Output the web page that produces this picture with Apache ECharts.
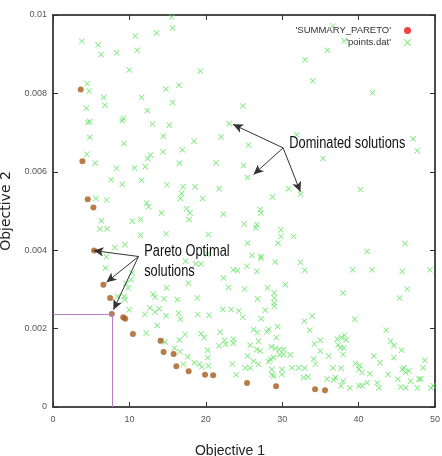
<!DOCTYPE html>
<html><head><meta charset="utf-8">
<script src="https://cdn.jsdelivr.net/npm/echarts@6/dist/echarts.min.js"></script>
<style>html,body{margin:0;padding:0;background:#fff}#c{width:442px;height:456px}</style>
</head><body><div id="c"></div>
<script>
// ---- data ----
const xTickValues = [0, 10, 20, 30, 40, 50];
const yTickValues = [0, 0.002, 0.004, 0.006, 0.008, 0.01];
const seriesNames = ["'SUMMARY_PARETO'", "'points.dat'"];
const axisNames = ['Objective 1', 'Objective 2'];

const paretoPoints = [
  [3.63,0.00810],[3.85,0.00627],[4.55,0.00530],[5.29,0.00509],[5.38,0.00399],[6.60,0.00312],
  [7.48,0.00278],[7.70,0.00237],[9.19,0.00229],[9.45,0.00225],[10.46,0.00186],[14.08,0.00169],
  [14.48,0.00140],[15.79,0.00135],[16.14,0.00104],[17.76,0.00091],[19.90,0.00082],[20.96,0.00081],
  [25.4,0.00061],[29.2,0.00053],[34.3,0.00045],[35.6,0.00043]
];

const dominatedPoints = [
  [15.53,0.00995],[15.66,0.00967],[3.77,0.00933],[5.91,0.00924],[10.76,0.00947],[13.56,0.00954],[6.30,0.00899],[8.31,0.00904],[11.02,0.00910],[9.97,0.00860],[19.29,0.00857],[4.46,0.00825],[4.72,0.00806],[6.65,0.00790],[6.78,0.00770],[4.37,0.00762],[11.59,0.00790],[14.79,0.00811],[16.50,0.00821],[15.66,0.00777],[24.84,0.00768],[38.10,0.00934],[35.92,0.00910],[32.98,0.00886],[33.99,0.00832],[41.82,0.00802],[36.61,0.00972],
  [12.34,0.00756],[4.55,0.00726],[4.82,0.00728],[9.19,0.00736],[9.06,0.00730],[13.03,0.00722],[15.22,0.00719],[23.06,0.00723],[4.82,0.00688],[9.28,0.00672],[14.44,0.00691],[18.46,0.00678],[22.01,0.00689],[4.42,0.00645],[5.51,0.00622],[8.31,0.00609],[10.67,0.00610],[12.07,0.00613],[12.38,0.00634],[12.77,0.00643],[14.40,0.00651],[16.93,0.00656],[16.54,0.00622],[21.35,0.00623],[24.93,0.00616],[7.61,0.00580],[9.06,0.00568],[11.59,0.00578],[14.92,0.00567],[17.02,0.00562],[18.60,0.00562],[21.75,0.00557],[5.60,0.00532],[7.00,0.00528],[16.84,0.00545],[16.67,0.00532],[19.59,0.00532],[12.24,0.00520],[12.51,0.00511],[17.49,0.00506],[31.89,0.00694],[25.59,0.00668],[35.34,0.00634],[47.15,0.00684],[47.68,0.00654],[25.46,0.00586],[30.84,0.00557],[28.74,0.00536],[32.41,0.00543],[40.25,0.00555],[27.13,0.00504],
  [14.21,0.00495],[17.94,0.00495],[22.31,0.00492],[6.34,0.00475],[6.13,0.00454],[7.09,0.00455],[10.37,0.00474],[11.46,0.00478],[17.81,0.00478],[11.46,0.00438],[14.79,0.00442],[20.34,0.00440],[25.03,0.00467],[8.10,0.00407],[9.41,0.00414],[7.00,0.00383],[6.86,0.00355],[17.36,0.00372],[18.67,0.00365],[19.38,0.00365],[20.25,0.00389],[23.62,0.00350],[24.15,0.00348],[22.31,0.00329],[17.72,0.00316],[10.37,0.00342],[10.20,0.00325],[9.54,0.00316],[9.84,0.00304],[9.32,0.00282],[9.41,0.00274],[14.87,0.00304],[13.12,0.00288],[13.35,0.00280],[14.53,0.00276],[16.27,0.00274],[18.90,0.00278],[22.97,0.00305],[25.07,0.00301],[27.20,0.00495],[26.68,0.00465],[26.55,0.00457],[29.83,0.00452],[29.83,0.00435],[31.50,0.00435],[29.44,0.00418],[25.46,0.00418],[26.02,0.00387],[27.20,0.00384],[27.20,0.00380],[29.09,0.00370],[32.38,0.00369],[32.94,0.00349],[25.37,0.00359],[26.68,0.00346],[39.24,0.00350],[41.77,0.00350],[45.71,0.00346],[49.34,0.00350],[41.12,0.00397],[46.06,0.00417],[28.08,0.00304],[28.96,0.00291],[28.96,0.00278],[28.96,0.00265],[28.96,0.00257],[30.41,0.00312],[26.77,0.00276],[37.97,0.00291],[46.36,0.00301],[45.37,0.00278],[8.44,0.00282],
  [9.97,0.00248],[12.20,0.00189],[12.69,0.00253],[12.03,0.00236],[13.35,0.00242],[13.91,0.00251],[14.79,0.00233],[16.44,0.00239],[16.67,0.00224],[18.94,0.00236],[20.43,0.00234],[22.22,0.00249],[23.32,0.00249],[24.32,0.00245],[13.65,0.00208],[14.66,0.00166],[16.54,0.00171],[17.28,0.00185],[19.38,0.00187],[19.78,0.00177],[21.88,0.00191],[22.44,0.00170],[22.61,0.00160],[23.62,0.00173],[23.62,0.00163],[21.75,0.00156],[15.88,0.00150],[16.63,0.00141],[20.25,0.00145],[20.25,0.00126],[17.62,0.00128],[17.06,0.00109],[18.50,0.00113],[19.16,0.00109],[19.46,0.00102],[20.34,0.00105],[23.49,0.00109],[23.98,0.00082],[25.16,0.00100],[27.78,0.00247],[32.90,0.00219],[33.90,0.00232],[33.60,0.00196],[39.50,0.00224],[43.61,0.00196],[26.25,0.00198],[26.77,0.00190],[28.22,0.00198],[27.99,0.00192],[29.40,0.00205],[29.23,0.00177],[25.81,0.00158],[26.90,0.00168],[26.68,0.00147],[27.13,0.00143],[25.46,0.00130],[28.57,0.00154],[29.09,0.00149],[29.62,0.00147],[30.18,0.00147],[28.44,0.00122],[28.87,0.00126],[28.22,0.00116],[31.06,0.00133],[29.66,0.00133],[30.18,0.00134],[26.25,0.00117],[25.81,0.00100],[26.90,0.00109],[28.65,0.00096],[28.65,0.00083],[28.87,0.00079],[29.96,0.00096],[29.96,0.00083],[31.27,0.00100],[32.15,0.00100],[32.94,0.00099],[32.81,0.00075],[33.37,0.00077],[34.12,0.00123],[34.34,0.00109],[34.21,0.00161],[35.00,0.00170],[35.00,0.00143],[36.09,0.00130],[37.18,0.00173],[37.76,0.00177],[38.36,0.00171],[38.15,0.00183],[37.31,0.00158],[37.62,0.00151],[38.06,0.00151],[37.97,0.00134],[36.65,0.00100],[37.70,0.00099],[35.87,0.00071],[36.75,0.00069],[36.97,0.00075],[37.70,0.00054],[37.97,0.00066],[38.85,0.00049],[40.03,0.00054],[40.46,0.00054],[41.12,0.00062],[39.59,0.00111],[40.16,0.00106],[40.03,0.00096],[40.46,0.00088],[41.47,0.00085],[41.99,0.00130],[42.78,0.00113],[42.43,0.00062],[42.65,0.00049],[43.87,0.00083],[44.62,0.00126],[44.19,0.00168],[44.62,0.00157],[45.63,0.00145],[45.14,0.00071],[45.50,0.00051],[46.15,0.00049],[45.71,0.00096],[46.15,0.00088],[46.59,0.00092],[45.93,0.00100],[46.81,0.00066],[47.68,0.00049],[47.90,0.00071],[48.12,0.00072],[48.46,0.00100],[48.65,0.00119],[49.44,0.00049],[49.78,0.00054],[24.84,0.00229],[27.26,0.00225],[14.21,0.00169]
];

// annotation anchors (data units)
const highlightedPoint = [7.70, 0.00237];
const dominatedLabel = { text: 'Dominated solutions', at: [30.93, 0.00673] };
const dominatedArrowFrom = [30.12, 0.00661];
const dominatedArrowTo = [[23.56, 0.00721], [26.25, 0.00593], [32.38, 0.00549]];
const paretoLabel = { text: 'Pareto Optimal\nsolutions', at: [11.94, 0.00370] };
const paretoArrowFrom = [11.19, 0.00384];
const paretoArrowTo = [[5.31, 0.00399], [6.99, 0.00318], [7.91, 0.00248]];

// ---- chart ----
const sans = "'Liberation Sans', Arial, sans-serif";
const xMin = xTickValues[0], xMax = xTickValues[xTickValues.length - 1];
const yMin = yTickValues[0], yMax = yTickValues[yTickValues.length - 1];
const xStep = xTickValues[1] - xTickValues[0], yStep = yTickValues[1] - yTickValues[0];
const xMark = 'path://M0,1L1,0L5,4L9,0L10,1L6,5L10,9L9,10L5,6L1,10L0,9L4,5Z';

function frameAxis(extra) {
  return Object.assign({
    type: 'value',
    axisLine: { show: true, onZero: false, lineStyle: { color: '#111', width: 1.5 } },
    axisTick: { show: true, inside: true, length: 5, lineStyle: { color: '#333', width: 1 } },
    splitLine: { show: false },
    axisLabel: { show: false }
  }, extra);
}

const arrowLines = [];
dominatedArrowTo.forEach(p => arrowLines.push([{ coord: dominatedArrowFrom }, { coord: p }]));
paretoArrowTo.forEach(p => arrowLines.push([{ coord: paretoArrowFrom }, { coord: p }]));

const chart = echarts.init(document.getElementById('c'), null, { renderer: 'canvas' });
chart.setOption({
  animation: false,
  backgroundColor: '#fff',
  grid: { left: 53, right: 7, top: 15, bottom: 49, containLabel: false, outerBoundsMode: 'none' },
  legend: {
    right: 26, top: 20, orient: 'vertical', align: 'right',
    itemWidth: 7, itemHeight: 7, itemGap: 1, selectedMode: false,
    textStyle: { fontFamily: sans, fontSize: 9.5, color: '#333', padding: [0, 8, 0, 0], lineHeight: 11 },
    data: [
      { name: seriesNames[0], icon: 'circle', itemStyle: { color: '#ee1111' } },
      { name: seriesNames[1] }
    ]
  },
  xAxis: [
    frameAxis({
      min: xMin, max: xMax, interval: xStep, position: 'bottom',
      axisLabel: { show: true, color: '#555', fontSize: 9, fontFamily: sans, margin: 8 },
      name: axisNames[0], nameLocation: 'middle', nameGap: 37,
      nameTextStyle: { fontFamily: sans, fontSize: 14, color: '#222', padding: [0, 28, 0, 0] }
    }),
    frameAxis({ min: xMin, max: xMax, interval: xStep, position: 'top' })
  ],
  yAxis: [
    frameAxis({
      min: yMin, max: yMax, interval: yStep, position: 'left',
      axisLabel: { show: true, color: '#555', fontSize: 9, fontFamily: sans, margin: 6 },
      name: axisNames[1], nameLocation: 'middle', nameGap: 36, nameRotate: 90,
      nameTextStyle: { fontFamily: "'DejaVu Sans', sans-serif", fontSize: 14, color: '#222' }
    }),
    frameAxis({ min: yMin, max: yMax, interval: yStep, position: 'right' })
  ],
  series: [
    {
      name: seriesNames[1], type: 'scatter', data: dominatedPoints,
      symbol: xMark, symbolSize: 6, itemStyle: { color: '#5ce35c' }, z: 2,
      emphasis: { disabled: true }
    },
    {
      name: seriesNames[0], type: 'scatter', data: paretoPoints,
      symbol: 'circle', symbolSize: 6, itemStyle: { color: '#a65b1c' }, z: 4,
      emphasis: { disabled: true },
      markLine: {
        silent: true, animation: false, symbol: ['none', 'none'],
        label: { show: false },
        lineStyle: { type: 'solid', color: '#b77fc0', width: 1 },
        data: [
          [{ coord: [xMin, highlightedPoint[1]] }, { coord: highlightedPoint }],
          [{ coord: highlightedPoint }, { coord: [highlightedPoint[0], yMin] }]
        ]
      }
    },
    {
      name: 'annotations', type: 'scatter', data: [], z: 5,
      markLine: {
        silent: true, animation: false, symbol: ['none', 'arrow'], symbolSize: [7, 10],
        label: { show: false },
        lineStyle: { type: 'solid', color: '#333', width: 1 },
        data: arrowLines
      }
    }
  ]
});

// condensed annotation texts, anchored through the grid's own coordinate conversion
function annotationText(label) {
  const p = chart.convertToPixel({ gridIndex: 0 }, label.at);
  return {
    type: 'text', x: p[0], y: p[1], scaleX: 0.8, z: 100, silent: true,
    style: {
      text: label.text, fill: '#111', font: "16px 'Liberation Sans', Arial, sans-serif",
      textAlign: 'left', textVerticalAlign: 'middle', lineHeight: 20
    }
  };
}
chart.setOption({ graphic: [annotationText(dominatedLabel), annotationText(paretoLabel)] });
</script>
</body></html>
